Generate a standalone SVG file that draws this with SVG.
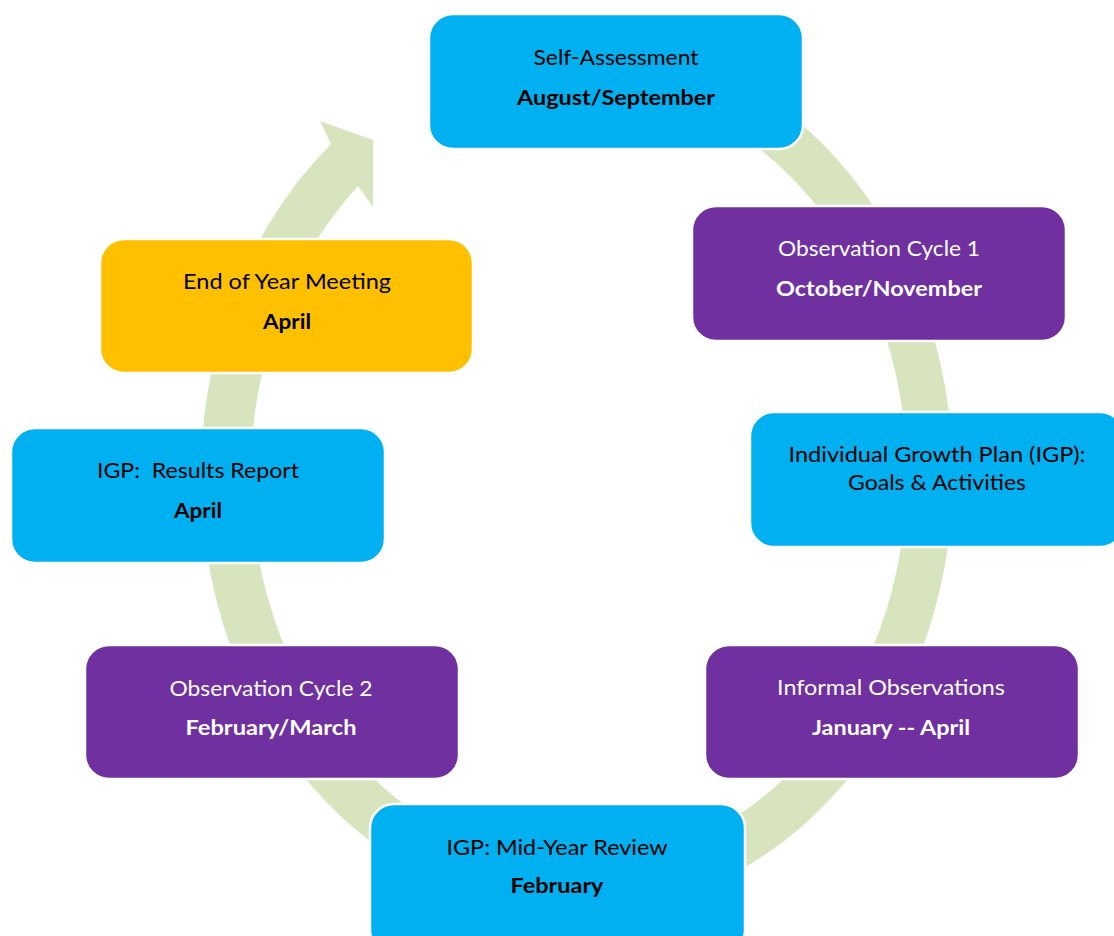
<svg xmlns="http://www.w3.org/2000/svg" width="1114" height="936" viewBox="0 0 1114 936">
  <style>
    .box { stroke: #ffffff; stroke-width: 2.5; }
    .blue { fill: #00B0F0; }
    .purple { fill: #7030A0; }
    .gold { fill: #FFC000; }
    .t { font-family: Lato, "Liberation Sans", Arial, sans-serif; font-size: 22px; text-anchor: middle; }
    .b { font-family: Lato, "Liberation Sans", Arial, sans-serif; font-size: 21px; font-weight: bold; text-anchor: middle; }
    .dark { fill: #000000; }
    .light { fill: #ffffff; }
    .band { fill: #D7E4BD; }
  </style>
  <rect width="1114" height="936" fill="#ffffff"/>
  <g id="connectors">
    <path class="band" d="M 484 51 A 376 438 0 1 1 331 144 L 320 121 L 373 140 L 373 207 L 358 186 A 328 390 0 1 0 496 97 Z"/>
  </g>
  <g id="node-self-assessment">
    <rect class="box blue" x="429" y="14" width="374" height="135" rx="24"/>
    <text class="t dark" x="616" y="65" textLength="165" lengthAdjust="spacingAndGlyphs">Self-Assessment</text>
    <text class="b dark" x="616" y="105" textLength="198" lengthAdjust="spacingAndGlyphs">August/September</text>
  </g>
  <g id="node-observation-1">
    <rect class="box purple" x="692" y="206" width="374" height="135" rx="24"/>
    <text class="t light" x="879" y="256" textLength="202" lengthAdjust="spacingAndGlyphs">Observation Cycle 1</text>
    <text class="b light" x="879" y="296" textLength="206" lengthAdjust="spacingAndGlyphs">October/November</text>
  </g>
  <g id="node-igp">
    <rect class="box blue" x="750" y="412" width="374" height="135" rx="24"/>
    <text class="t dark" x="937" y="462" textLength="297" lengthAdjust="spacingAndGlyphs">Individual Growth Plan (IGP):</text>
    <text class="t dark" x="937" y="490" textLength="178" lengthAdjust="spacingAndGlyphs">Goals &amp; Activities</text>
  </g>
  <g id="node-informal">
    <rect class="box purple" x="705" y="645" width="374" height="134" rx="24"/>
    <text class="t light" x="891" y="695" textLength="228" lengthAdjust="spacingAndGlyphs">Informal Observations</text>
    <text class="b light" x="891" y="735" textLength="158" lengthAdjust="spacingAndGlyphs">January -- April</text>
  </g>
  <g id="node-midyear">
    <rect class="box blue" x="370" y="804" width="375" height="150" rx="24"/>
    <text class="t dark" x="557" y="855" textLength="221" lengthAdjust="spacingAndGlyphs">IGP: Mid-Year Review</text>
    <text class="b dark" x="557" y="893" textLength="93" lengthAdjust="spacingAndGlyphs">February</text>
  </g>
  <g id="node-observation-2">
    <rect class="box purple" x="85" y="645" width="374" height="134" rx="24"/>
    <text class="t light" x="271" y="696" textLength="203" lengthAdjust="spacingAndGlyphs">Observation Cycle 2</text>
    <text class="b light" x="271" y="735" textLength="171" lengthAdjust="spacingAndGlyphs">February/March</text>
  </g>
  <g id="node-results">
    <rect class="box blue" x="11" y="428" width="374" height="135" rx="24"/>
    <text class="t dark" x="198" y="478" textLength="202" lengthAdjust="spacingAndGlyphs" xml:space="preserve">IGP:  Results Report</text>
    <text class="b dark" x="198" y="518" textLength="48" lengthAdjust="spacingAndGlyphs">April</text>
  </g>
  <g id="node-end-of-year">
    <rect class="box gold" x="100" y="239" width="373" height="134" rx="24"/>
    <text class="t dark" x="287" y="289" textLength="208" lengthAdjust="spacingAndGlyphs">End of Year Meeting</text>
    <text class="b dark" x="287" y="329" textLength="48" lengthAdjust="spacingAndGlyphs">April</text>
  </g>
</svg>
